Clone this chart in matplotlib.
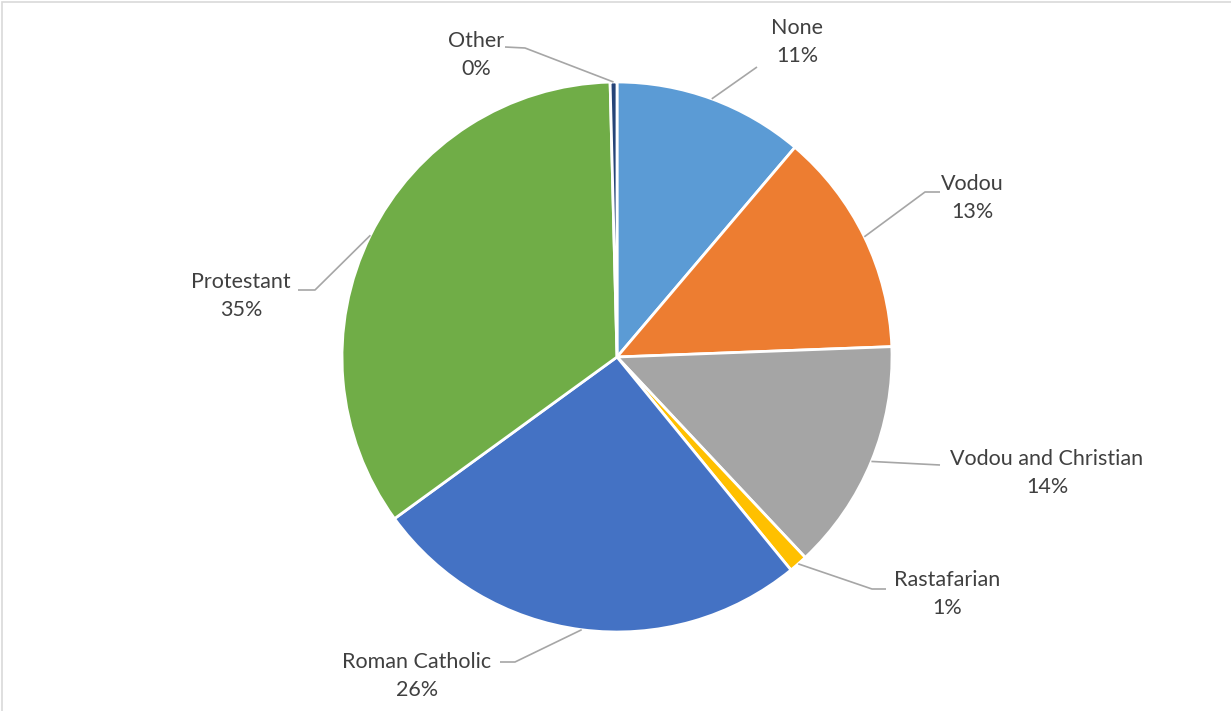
import numpy as np
import matplotlib.pyplot as plt
from matplotlib.patches import Rectangle

# religion shares (percent)
labels = ["None", "Vodou", "Vodou and Christian", "Rastafarian",
          "Roman Catholic", "Protestant", "Other"]
shares = [11.2, 13.2, 13.6, 1.1, 25.9, 34.6, 0.4]
colors = ["#5B9BD5", "#ED7D31", "#A5A5A5", "#FFC000",
          "#4472C4", "#70AD47", "#264478"]

# label text centres and leader elbows, in pixels from the top-left
label_pos = [(797, 42), (972, 198), (1047, 473), (947, 594),
             (417, 676), (241, 296), (476, 55)]
elbow_pos = [(757, 67), (925, 192), (940, 465), (872, 589),
             (515, 662), (315, 290), (525, 48)]
line_end = [(757, 67), (940, 192), (940, 465), (886, 589),
            (500, 662), (298, 290), (505, 47)]

W, H = 1231, 711
plt.rcParams['font.family'] = ['Lato', 'DejaVu Sans']

fig = plt.figure(figsize=(W / 100, H / 100), dpi=100)
ax = fig.add_axes([0, 0, 1, 1])

cx, cy, r = 617, H - 357, 275
wedges, _ = ax.pie(shares, colors=colors, startangle=90, counterclock=False,
                   center=(cx, cy), radius=r, frame=True,
                   wedgeprops=dict(edgecolor='white', linewidth=2.0))
ax.set_xlim(0, W)
ax.set_ylim(0, H)
ax.set_aspect('equal')
ax.axis('off')

total = sum(shares)
for w, name, val, lp, ep, le in zip(wedges, labels, shares, label_pos, elbow_pos, line_end):
    mid = np.deg2rad((w.theta1 + w.theta2) / 2)
    edge_pt = (cx + r * np.cos(mid), cy + r * np.sin(mid))
    xs = [edge_pt[0], ep[0], le[0]]
    ys = [edge_pt[1], H - ep[1], H - le[1]]
    ax.plot(xs, ys, color='#A6A6A6', lw=1.2, solid_capstyle='butt')
    ax.text(lp[0], H - lp[1], f"{name}\n{val / total * 100:.0f}%",
            ha='center', va='center', fontsize=15.5, color='#404040',
            linespacing=1.5)

# chart border
fig.patches.append(Rectangle((2 / W, -0.01), 1.1, (H - 2) / H + 0.01,
                             transform=fig.transFigure, fill=False,
                             edgecolor='#D9D9D9', lw=1.2))

fig.savefig("out.png", dpi=100, facecolor='white')
